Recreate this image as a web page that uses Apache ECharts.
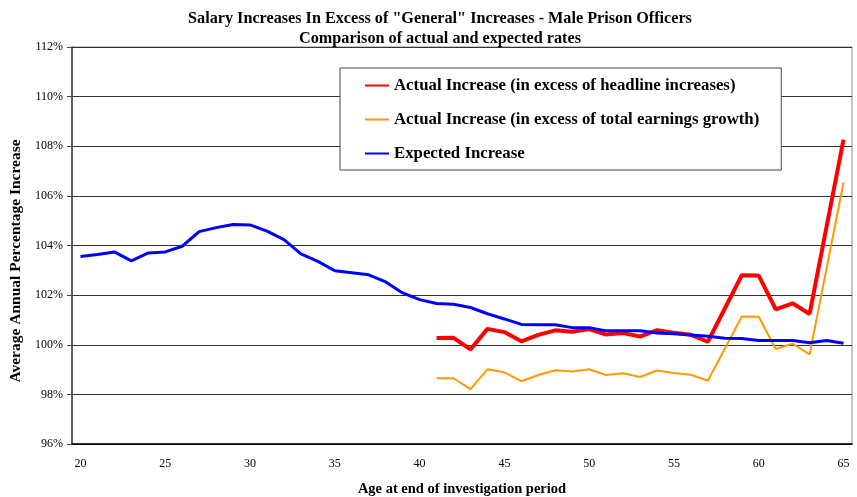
<!DOCTYPE html>
<html>
<head>
<meta charset="utf-8">
<script src="https://cdn.jsdelivr.net/npm/echarts@6/dist/echarts.min.js"></script>
<style>
  html, body { margin: 0; padding: 0; background: #fff; }
  #chart { width: 857px; height: 497px; }
</style>
</head>
<body>
<div id="chart"></div>
<script>
// Age at the end of the investigation period (category axis)
const ages = [];
for (let a = 20; a <= 65; a++) ages.push(String(a));

// Average annual percentage increase, by age
const expectedIncrease = [
  103.56, 103.64, 103.74, 103.38, 103.70, 103.74, 103.97, 104.56, 104.72, 104.85,
  104.83, 104.58, 104.24, 103.66, 103.36, 102.98, 102.90, 102.82, 102.53, 102.09,
  101.82, 101.66, 101.63, 101.50, 101.25, 101.04, 100.82, 100.81, 100.81, 100.69,
  100.69, 100.56, 100.56, 100.56, 100.47, 100.44, 100.39, 100.34, 100.26, 100.25,
  100.17, 100.17, 100.17, 100.08, 100.17, 100.06
];

// Actual increases exist only from age 41; ages 58 and 64 have no figure
const actualHeadline = [
  null, null, null, null, null, null, null, null, null, null,
  null, null, null, null, null, null, null, null, null, null,
  null, 100.27, 100.28, 99.81, 100.64, 100.51, 100.14, 100.40, 100.58, 100.52,
  100.63, 100.41, 100.47, 100.33, 100.59, 100.48, 100.40, 100.12, null, 102.80,
  102.79, 101.43, 101.67, 101.24, null, 108.27
];

const actualEarnings = [
  null, null, null, null, null, null, null, null, null, null,
  null, null, null, null, null, null, null, null, null, null,
  null, 98.65, 98.65, 98.21, 99.01, 98.89, 98.53, 98.78, 98.97, 98.92,
  99.01, 98.78, 98.85, 98.70, 98.96, 98.86, 98.79, 98.55, null, 101.14,
  101.13, 99.83, 100.04, 99.61, null, 106.54
];

const serif = '"Liberation Serif", "Times New Roman", serif';
const boldText = (size) => ({ fontFamily: serif, fontSize: size, fontWeight: 'bold', color: '#000' });

const chart = echarts.init(document.getElementById('chart'));
chart.setOption({
  animation: false,
  backgroundColor: '#ffffff',
  title: [
    {
      text: 'Salary Increases In Excess of "General" Increases - Male Prison Officers',
      left: 440, top: 11, textAlign: 'center', padding: 0,
      textStyle: boldText(16.2)
    },
    {
      text: 'Comparison of actual and expected rates',
      left: 440, top: 31, textAlign: 'center', padding: 0,
      textStyle: boldText(16.2)
    }
  ],
  legend: {
    orient: 'vertical',
    left: 340, top: 68,
    padding: [9, 22, 8, 24],
    itemWidth: 24, itemHeight: 16, itemGap: 17,
    backgroundColor: '#fff',
    borderColor: '#444', borderWidth: 1,
    itemStyle: { color: 'transparent', borderColor: 'transparent', borderWidth: 0 },
    textStyle: boldText(16.8),
    data: [
      'Actual Increase (in excess of headline increases)',
      'Actual Increase (in excess of total earnings growth)',
      'Expected Increase'
    ]
  },
  grid: {
    left: 72, right: 5, top: 47, bottom: 53,
    outerBoundsMode: 'none',
    show: true, borderColor: '#888', borderWidth: 1
  },
  xAxis: {
    type: 'category',
    data: ages,
    boundaryGap: true,
    name: 'Age at end of investigation period',
    nameLocation: 'middle', nameGap: 38,
    nameTextStyle: boldText(14.5),
    axisLine: { lineStyle: { color: '#000', width: 1.5 } },
    axisTick: { interval: 0, length: 5, lineStyle: { color: '#000' } },
    axisLabel: { interval: 4, margin: 14, fontFamily: serif, fontSize: 12, color: '#000' },
    splitLine: { show: false }
  },
  yAxis: {
    type: 'value',
    min: 96, max: 112, interval: 2,
    axisLine: { show: true, lineStyle: { color: '#444', width: 1.5 } },
    axisTick: { show: true, length: 5, lineStyle: { color: '#444' } },
    axisLabel: { margin: 9, formatter: '{value}%', fontFamily: serif, fontSize: 12, color: '#000' },
    splitLine: { show: true, lineStyle: { color: '#333', width: 1 } }
  },
  // Vertical axis title, set a little below the plot's middle
  graphic: [
    {
      type: 'text',
      x: 16, y: 261,
      rotation: Math.PI / 2,
      style: {
        text: 'Average Annual Percentage Increase',
        align: 'center', verticalAlign: 'middle',
        fill: '#000',
        font: 'bold 15.5px ' + serif
      }
    }
  ],
  series: [
    {
      name: 'Actual Increase (in excess of headline increases)',
      type: 'line', data: actualHeadline, connectNulls: true,
      symbol: 'none', color: '#ff0000',
      lineStyle: { color: '#ff0000', width: 4 }
    },
    {
      name: 'Actual Increase (in excess of total earnings growth)',
      type: 'line', data: actualEarnings, connectNulls: true,
      symbol: 'none', color: '#ff9900',
      lineStyle: { color: '#ff9900', width: 2 }
    },
    {
      name: 'Expected Increase',
      type: 'line', data: expectedIncrease,
      symbol: 'none', color: '#0000ff',
      lineStyle: { color: '#0000ff', width: 3 }
    }
  ]
});
</script>
</body>
</html>
